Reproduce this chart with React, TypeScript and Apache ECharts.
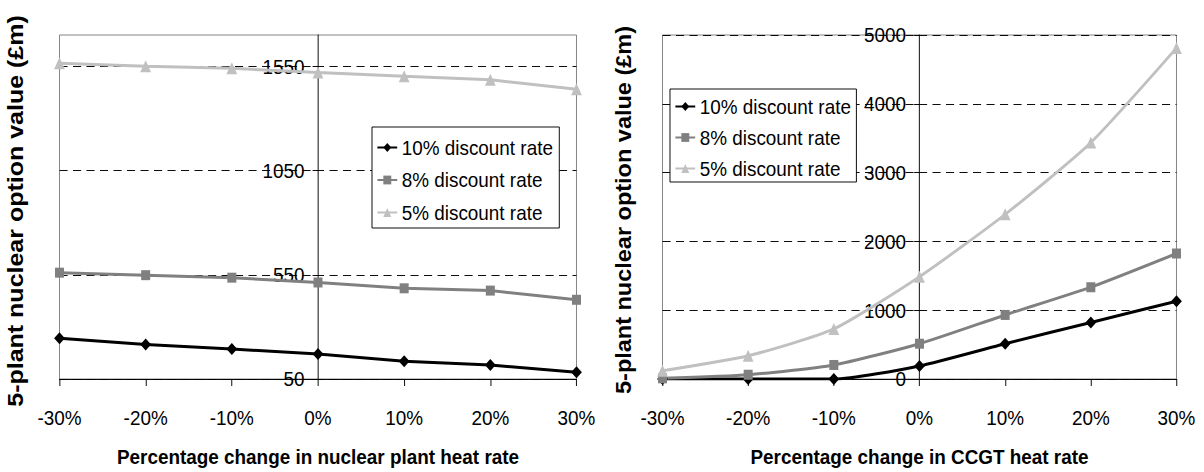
import React, { useEffect, useRef } from 'react';
import * as echarts from 'echarts';

const categories = ['-30%', '-20%', '-10%', '0%', '10%', '20%', '30%'];
const seriesNames = ['10% discount rate', '8% discount rate', '5% discount rate'];

// Left chart: nuclear plant heat rate sensitivity (£m)
const nuclear10 = [245, 215, 194, 170, 135, 117, 82];
const nuclear8 = [560, 548, 536, 513, 485, 474, 430];
const nuclear5 = [1565, 1550, 1540, 1520, 1502, 1485, 1440];

// Right chart: CCGT heat rate sensitivity (£m)
const ccgt10 = [0, 0, 0, 190, 513, 822, 1131];
const ccgt8 = [10, 62, 204, 513, 931, 1335, 1824];
const ccgt5 = [119, 337, 727, 1487, 2393, 3436, 4810];

const leftAxis = { min: 50, max: 1700, interval: 500 };
const rightAxis = { min: 0, max: 5000, interval: 1000 };

const leftXTitle = 'Percentage change in nuclear plant heat rate';
const rightXTitle = 'Percentage change in CCGT heat rate';
const yTitle = '5-plant nuclear option value (£m)';

const FONT = "'Liberation Sans', Arial, Helvetica, sans-serif";
const colors = ['#000000', '#808080', '#c0c0c0'];
const symbols = ['diamond', 'rect', 'triangle'];
const symbolSizes = [12, 10, 12];

// The original picture is horizontally condensed; the chart is laid out wider and squeezed.
const SX = 0.9;
const W = 1204;
const H = 472;
const px = (x: number) => x / SX;

export default function App() {
  const ref = useRef<HTMLDivElement>(null);

  useEffect(() => {
    if (!ref.current) return;
    const chart = echarts.init(ref.current, undefined, { renderer: 'svg' });

    const grids = [
      { left: px(59.5), top: 35, width: px(517), height: 346.5 },
      { left: px(662.5), top: 35, width: px(514), height: 351 },
    ];

    const xAxisBase = (gridIndex: number, name: string) => ({
      type: 'category',
      gridIndex,
      data: categories,
      boundaryGap: false,
      axisLine: { onZero: false, lineStyle: { color: '#000', width: 1 } },
      axisTick: { show: true, length: 7, inside: false, lineStyle: { color: '#000' } },
      axisLabel: { margin: 28, fontSize: 21, color: '#000', fontFamily: FONT },
      splitLine: { show: false },
      name,
      nameLocation: 'middle',
      nameGap: 67,
      nameTextStyle: { fontSize: 21, fontWeight: 'bold', color: '#000', fontFamily: FONT },
    });

    const yAxisBase = (gridIndex: number, range: any, offset: number, showMax: boolean) => ({
      type: 'value',
      gridIndex,
      min: range.min,
      max: range.max,
      interval: range.interval,
      position: 'left',
      offset,
      axisLine: { show: true, lineStyle: { color: '#000', width: 1 } },
      axisTick: { show: true, length: 6, lineStyle: { color: '#000' } },
      axisLabel: {
        margin: 15,
        fontSize: 21,
        color: '#000',
        fontFamily: FONT,
        showMaxLabel: showMax,
        formatter: (v: number) => String(v),
      },
      splitLine: {
        show: true,
        showMaxLine: showMax,
        lineStyle: { color: '#000', width: 1, type: [9, 6] },
      },
    });

    const makeSeries = (idx: number, data: number[], axisIndex: number, smooth: any) => ({
      type: 'line',
      name: seriesNames[idx],
      xAxisIndex: axisIndex,
      yAxisIndex: axisIndex,
      data,
      smooth,
      symbol: symbols[idx],
      symbolSize: symbolSizes[idx],
      lineStyle: { color: colors[idx], width: 3 },
      itemStyle: { color: colors[idx] },
      emphasis: { disabled: true },
    });

    const legendBase = {
      orient: 'vertical',
      data: seriesNames,
      backgroundColor: '#fff',
      borderColor: '#000',
      borderWidth: 1,
      borderRadius: 0,
      itemWidth: 22,
      itemHeight: 11,
      selectedMode: false,
      textStyle: { fontSize: 21, color: '#000', fontFamily: FONT },
    };

    const yTitleStyle = (size: number) => ({
      text: yTitle,
      font: `bold ${size}px ${FONT}`,
      fill: '#000',
      textAlign: 'center',
      textVerticalAlign: 'middle',
    });

    chart.setOption({
      animation: false,
      backgroundColor: '#fff',
      grid: grids.map((g) => ({
        ...g,
        show: true,
        borderColor: '#808080',
        borderWidth: 1,
        backgroundColor: 'transparent',
        containLabel: false,
      })),
      xAxis: [xAxisBase(0, leftXTitle), xAxisBase(1, rightXTitle)],
      yAxis: [
        yAxisBase(0, leftAxis, -grids[0].width / 2, false),
        yAxisBase(1, rightAxis, -grids[1].width / 2, true),
      ],
      legend: [
        { ...legendBase, left: px(372), top: 127, padding: [10, 7, 5, 5], itemGap: 11.5 },
        { ...legendBase, left: px(670), top: 89, padding: [7, 6, 3, 5], itemGap: 10 },
      ],
      graphic: [
        { type: 'text', x: px(15), y: 211, rotation: Math.PI / 2, style: yTitleStyle(25) },
        { type: 'text', x: px(624), y: 210, rotation: Math.PI / 2, style: yTitleStyle(23.5) },
      ],
      series: [
        makeSeries(0, nuclear10, 0, false),
        makeSeries(1, nuclear8, 0, false),
        makeSeries(2, nuclear5, 0, false),
        makeSeries(0, ccgt10, 1, 0.2),
        makeSeries(1, ccgt8, 1, 0.2),
        makeSeries(2, ccgt5, 1, 0.2),
      ],
    });

    return () => chart.dispose();
  }, []);

  return (
    <div
      ref={ref}
      style={{
        position: 'fixed',
        left: 0,
        top: 0,
        width: px(W),
        height: H,
        background: '#fff',
        transform: `scaleX(${SX})`,
        transformOrigin: '0 0',
      }}
    />
  );
}
